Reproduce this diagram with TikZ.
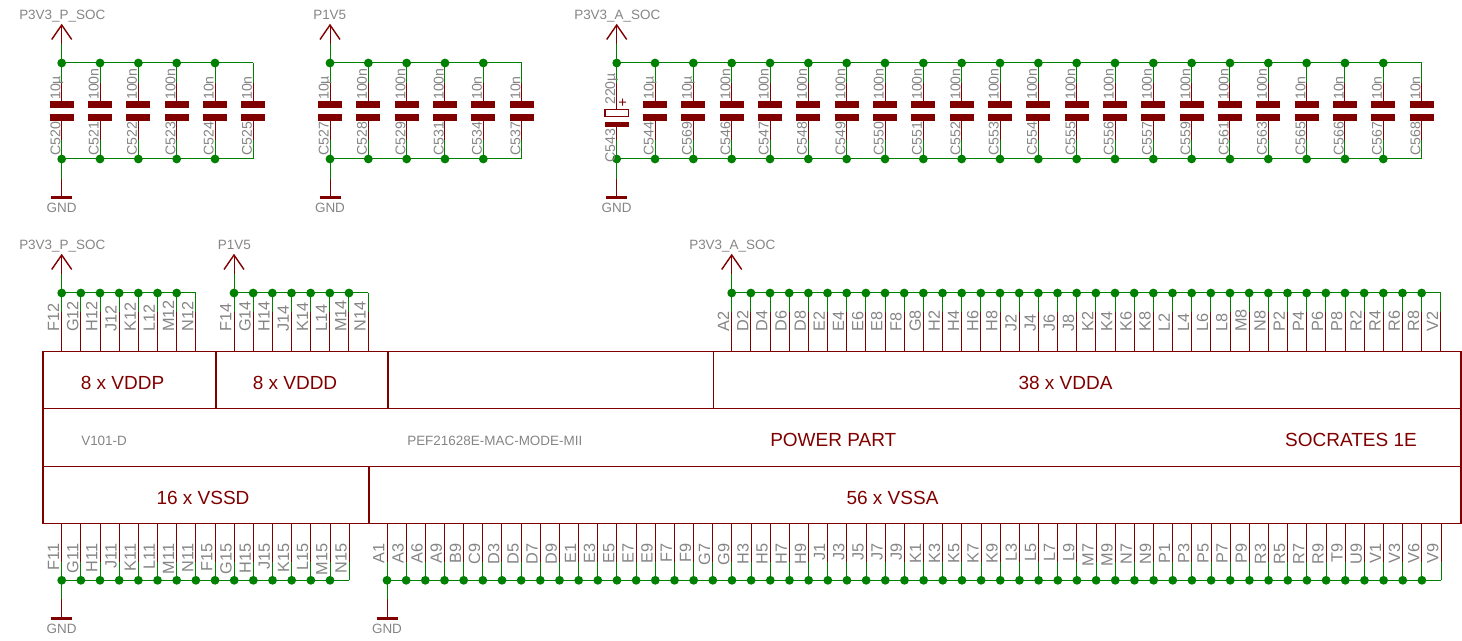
\documentclass[tikz,border=0pt]{standalone}
\usepackage{fontspec}
\setmainfont{Liberation Sans}
\definecolor{wred}{HTML}{800000}
\definecolor{wgreen}{HTML}{008000}
\definecolor{tgray}{HTML}{858585}
\newcommand{\fsGray}{\fontsize{10.1pt}{12pt}\selectfont}
\newcommand{\fsCap}{\fontsize{10.6pt}{12pt}\selectfont}
\newcommand{\fsPin}{\fontsize{12.2pt}{13pt}\selectfont}
\newcommand{\fsRed}{\fontsize{14.25pt}{16pt}\selectfont}
\tikzset{
  redw/.style={draw=wred,line width=0.75pt},
  greenw/.style={draw=wgreen,line width=0.75pt},
  symb/.style={draw=wred,line width=1.05pt},
  gndbar/.style={draw=wred,line width=1.9pt},
  dot/.style={circle,fill=wgreen,inner sep=0pt,minimum size=6.6pt},
  plate/.style={fill=wred,draw=none},
  graytext/.style={text=tgray,inner sep=0pt,font=\fsGray},
  capval/.style={text=tgray,inner sep=0pt,font=\fsCap,rotate=90,anchor=base west},
  pinup/.style={text=tgray,inner sep=0pt,font=\fsPin,rotate=90,anchor=base west},
  pindown/.style={text=tgray,inner sep=0pt,font=\fsPin,rotate=90,anchor=base east},
  redtext/.style={text=wred,inner sep=0pt,font=\fsRed,anchor=base},
  cell/.style={draw=wred,line width=1.3pt,inner sep=0pt,anchor=north west},
}
% supply symbol: #1 name, #2 x, #3 tip y, #4 rail node, #5 label text, #6 label x, #7 label baseline y
\newcommand{\supply}[7]{
  \coordinate (#1tip) at (#2,#3);
  \coordinate (#1mid) at (#2,#3+19);
  \coordinate (#1wl) at (#2-10,#3+14.5);
  \coordinate (#1wr) at (#2+10,#3+14.5);
  \draw[redw] (#1tip) -- (#1mid);
  \draw[greenw] (#1mid) -- (#4);
  \draw[symb] (#1wl) -- (#1tip) -- (#1wr);
  \node[graytext,anchor=base west] (#1lab) at (#6,#7) {#5};
}
% ground symbol: #1 name, #2 x, #3 rail node, #4 switch y, #5 bar y, #6 label y
\newcommand{\ground}[6]{
  \coordinate (#1sw) at (#2,#4);
  \coordinate (#1bar) at (#2,#5);
  \coordinate (#1bl) at (#2-10.5,#5);
  \coordinate (#1br) at (#2+10.5,#5);
  \draw[greenw] (#3) -- (#1sw);
  \draw[redw] (#1sw) -- (#1bar);
  \draw[gndbar] (#1bl) -- (#1br);
  \node[graytext] (#1lab) at (#2,#6) {GND};
}
\def\pol{220u}
% capacitor bank: #1 prefix, #2 x0, #3 last index, #4 list name/value
\newcommand{\capbank}[4]{
  \foreach \nm/\va [count=\i from 0] in {#4} {
    \pgfmathsetmacro{\xx}{#2+38.33*\i}
    \coordinate (#1t\i) at (\xx,63);
    \coordinate (#1b\i) at (\xx,159);
    \coordinate (#1ts\i) at (\xx,83);
    \coordinate (#1bs\i) at (\xx,140);
    \ifnum\i=#3\relax\else
      \node[dot] (#1dt\i) at (#1t\i) {};
      \node[dot] (#1db\i) at (#1b\i) {};
    \fi
    \ifnum\i>0\relax
      \pgfmathtruncatemacro{\pr}{\i-1}
      \draw[greenw] (#1t\pr) -- (#1t\i);
      \draw[greenw] (#1b\pr) -- (#1b\i);
    \fi
    \draw[greenw] (#1t\i) -- (#1ts\i);
    \draw[greenw] (#1b\i) -- (#1bs\i);
    \ifx\va\pol
      \coordinate (#1pa\i) at (\xx,109.7);
      \coordinate (#1pb\i) at (\xx,124);
      \draw[redw] (#1ts\i) -- (#1pa\i);
      \draw[redw] (#1pb\i) -- (#1bs\i);
      \node[draw=wred,line width=1pt,fill=white,minimum width=17.5pt,minimum height=4.9pt,inner sep=0pt] (#1pu\i) at (\xx,113) {};
      \node[plate,minimum width=18pt,minimum height=4pt,inner sep=0pt] (#1pl\i) at (\xx,124.7) {};
      \node[text=wred,inner sep=0pt,font=\fontsize{11pt}{12pt}\selectfont] (#1plus\i) at (\xx+6,103.5) {+};
      \node[capval] (#1v\i) at (\xx-1.6,105) {220µ};
      \node[capval] (#1n\i) at (\xx-1.6,163) {\nm};
    \else
      \coordinate (#1pa\i) at (\xx,101);
      \coordinate (#1pb\i) at (\xx,121);
      \draw[redw] (#1ts\i) -- (#1pa\i);
      \draw[redw] (#1pb\i) -- (#1bs\i);
      \node[plate,minimum width=18pt,minimum height=5.25pt,inner sep=0pt,anchor=north] (#1pu\i) at (#1pa\i) {};
      \node[plate,minimum width=18pt,minimum height=5.25pt,inner sep=0pt,anchor=south] (#1pl\i) at (#1pb\i) {};
      \node[capval] (#1v\i) at (\xx-1.4,100) {\va};
      \node[capval] (#1n\i) at (\xx-1.4,155.5) {\nm};
    \fi
  }
}
% pin rows: #1 prefix, #2 x0, #3 last idx, #4 rail y, #5 switch y, #6 box y, #7 label y, #8 style, #9 list
\newcommand{\pinrow}[9]{
  \foreach \nm [count=\i from 0] in {#9} {
    \pgfmathsetmacro{\xx}{#2+19.165*\i}
    \coordinate (#1r\i) at (\xx,#4);
    \coordinate (#1s\i) at (\xx,#5);
    \coordinate (#1c\i) at (\xx,#6);
    \draw[greenw] (#1r\i) -- (#1s\i);
    \draw[redw] (#1s\i) -- (#1c\i);
    \ifnum\i=#3\relax\else
      \node[dot] (#1d\i) at (#1r\i) {};
    \fi
    \ifnum\i>0\relax
      \pgfmathtruncatemacro{\pr}{\i-1}
      \draw[greenw] (#1r\pr) -- (#1r\i);
    \fi
    \node[#8] (#1n\i) at (\xx-2.6,#7) {\nm};
  }
}
\begin{document}
\begin{tikzpicture}[x=0.75pt,y=-0.75pt]
\useasboundingbox (0,0) rectangle (1462,641);
% capacitor banks
\capbank{a}{61.7}{5}{C520/10µ,C521/100n,C522/100n,C523/100n,C524/10n,C525/10n}
\capbank{b}{330}{5}{C527/10µ,C528/100n,C529/100n,C531/100n,C534/10n,C537/10n}
\capbank{c}{616.7}{21}{C543/220u,C544/10µ,C569/10µ,C546/100n,C547/100n,C548/100n,C549/100n,C550/100n,C551/100n,C552/100n,C553/100n,C554/100n,C555/100n,C556/100n,C557/100n,C559/100n,C561/100n,C563/100n,C565/10n,C566/10n,C567/10n,C568/10n}
\supply{sa}{61.7}{25}{at0}{P3V3\_P\_SOC}{19}{20}
\supply{sb}{330}{25}{bt0}{P1V5}{313}{20}
\supply{sc}{616.7}{25}{ct0}{P3V3\_A\_SOC}{574}{20}
\ground{ga}{61.7}{ab0}{178.7}{197.3}{207.5}
\ground{gb}{330}{bb0}{178.7}{197.3}{207.5}
\ground{gc}{616.7}{cb0}{178.7}{197.3}{207.5}
% main symbol
\node[cell,minimum width=129.5pt,minimum height=42.9pt] (vddp) at (42.3,350.5) {};
\node[cell,minimum width=129.2pt,minimum height=42.9pt] (vddd) at (215,350.5) {};
\node[cell,minimum width=244pt,minimum height=42.9pt] (gap) at (387.3,350.5) {};
\node[cell,minimum width=560.5pt,minimum height=42.9pt] (vdda) at (712.7,350.5) {};
\node[cell,minimum width=1063.3pt,minimum height=43.4pt] (mid) at (42.3,407.7) {};
\node[cell,minimum width=244.3pt,minimum height=42.8pt] (vssd) at (42.3,465.6) {};
\node[cell,minimum width=819pt,minimum height=42.8pt] (vssa) at (368,465.6) {};
\node[redtext] (tvddp) at (122.5,389) {8 x VDDP};
\node[redtext] (tvddd) at (295,389) {8 x VDDD};
\node[redtext] (tvdda) at (1065.5,389) {38 x VDDA};
\node[redtext] (tvssd) at (203,504.5) {16 x VSSD};
\node[redtext] (tvssa) at (892.5,504.5) {56 x VSSA};
\node[graytext,anchor=west] (tv101) at (81,440.5) {V101-D};
\node[graytext,anchor=west] (tpef) at (407,440.5) {PEF21628E-MAC-MODE-MII};
\node[redtext,anchor=base west] (tpow) at (770,446) {POWER PART};
\node[redtext,anchor=base east] (tsoc) at (1417,446) {SOCRATES 1E};
% top pin rows
\pinrow{p}{61.7}{7}{293}{311.7}{350.5}{332}{pinup}{F12,G12,H12,J12,K12,L12,M12,N12}
\pinrow{q}{234}{7}{293}{311.7}{350.5}{332}{pinup}{F14,G14,H14,J14,K14,L14,M14,N14}
\pinrow{r}{731.7}{37}{293}{311.7}{350.5}{332}{pinup}{A2,D2,D4,D6,D8,E2,E4,E6,E8,F8,G8,H2,H4,H6,H8,J2,J4,J6,J8,K2,K4,K6,K8,L2,L4,L6,L8,M8,N8,P2,P4,P6,P8,R2,R4,R6,R8,V2}
\supply{st}{61.7}{255}{pr0}{P3V3\_P\_SOC}{19}{250}
\supply{su}{234}{255}{qr0}{P1V5}{217.7}{250}
\supply{sv}{731.7}{255}{rr0}{P3V3\_A\_SOC}{689}{250}
% bottom pin rows
\pinrow{u}{61.7}{15}{580.3}{561.7}{522.7}{543.5}{pindown}{F11,G11,H11,J11,K11,L11,M11,N11,F15,G15,H15,J15,K15,L15,M15,N15}
\pinrow{v}{387}{55}{580.3}{561.7}{522.7}{543.5}{pindown}{A1,A3,A6,A9,B9,C9,D3,D5,D7,D9,E1,E3,E5,E7,E9,F7,F9,G7,G9,H3,H5,H7,H9,J1,J3,J5,J7,J9,K1,K3,K5,K7,K9,L3,L5,L7,L9,M7,M9,N7,N9,P1,P3,P5,P7,P9,R3,R5,R7,R9,T9,U9,V1,V3,V6,V9}
\ground{gu}{61.7}{ur0}{599}{618.3}{628.5}
\ground{gv}{387}{vr0}{599}{618.3}{628.5}
\end{tikzpicture}
\end{document}
